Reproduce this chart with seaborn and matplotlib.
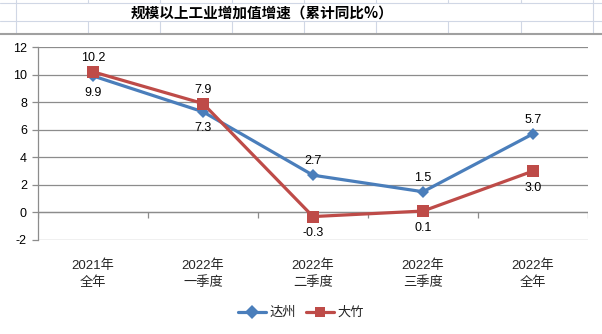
import matplotlib
matplotlib.use("Agg")
import matplotlib.pyplot as plt
from matplotlib.lines import Line2D
import seaborn as sns
import pandas as pd
import numpy as np

categories = ["2021年\n全年", "2022年\n一季度", "2022年\n二季度", "2022年\n三季度", "2022年\n全年"]
dazhou = [9.9, 7.3, 2.7, 1.5, 5.7]
dazhu = [10.2, 7.9, -0.3, 0.1, 3.0]
series_names = ["达州", "大竹"]
title = "规模以上工业增加值增速（累计同比%）"

sns.set_theme(style="white")
plt.rcParams['font.family'] = ['Liberation Sans', 'Noto Sans CJK SC', 'DejaVu Sans']

W, H = 602, 334
fig = plt.figure(figsize=(W / 100, H / 100), dpi=100)
fig.patch.set_facecolor("white")

def fx(px):
    return px / W

def fy(py):
    return 1 - py / H

ax = fig.add_axes([fx(38), fy(240), fx(588) - fx(38), fy(47) - fy(240)])

pos = list(range(len(categories)))
df = pd.DataFrame({
    "x": pos * 2,
    "value": dazhou + dazhu,
    "series": [series_names[0]] * len(pos) + [series_names[1]] * len(pos),
})

palette = {series_names[0]: "#4A7EBB", series_names[1]: "#BE4B48"}
markers = {series_names[0]: "D", series_names[1]: "s"}
sizes_m = {series_names[0]: 6.5, series_names[1]: 8.5}

sns.lineplot(data=df, x="x", y="value", hue="series", style="series",
             hue_order=series_names, style_order=series_names,
             palette=palette, markers=markers, dashes=False,
             linewidth=2.3, markersize=7.5, markeredgewidth=0, ax=ax)
for line, name in zip(ax.get_lines()[:2], series_names):
    line.set_markersize(sizes_m[name])

# data labels
label_pos = {series_names[0]: ["below", "below", "above", "above", "above"],
             series_names[1]: ["above", "above", "below", "below", "below"]}
for name, vals in zip(series_names, [dazhou, dazhu]):
    for i, v in enumerate(vals):
        off = 10 if label_pos[name][i] == "above" else -12
        ax.annotate(f"{v:.1f}", (i, v), xytext=(0, off), textcoords="offset points",
                    ha="center", va="center", fontsize=9, color="black")

ax.set_xlim(-0.5, len(categories) - 0.5)
ax.set_ylim(-2, 12)
ax.set_yticks(np.arange(-2, 13, 2))
ax.set_yticklabels([str(v) for v in np.arange(-2, 13, 2)], fontsize=9)
ax.yaxis.grid(True, color="#8C8C8C", linewidth=0.9)
ax.set_axisbelow(True)
ax.tick_params(axis="y", which="both", left=True, length=4, width=0.9, color="#8C8C8C", pad=4, labelcolor="black")

ax.set_xticks(pos)
ax.set_xticklabels(categories, fontsize=9.5)
ax.tick_params(axis="x", length=0, pad=14)
for lab in ax.get_xticklabels():
    lab.set_linespacing(1.45)

for s in ["top", "right", "bottom"]:
    ax.spines[s].set_visible(False)
ax.spines["left"].set_color("#8C8C8C")
ax.spines["left"].set_linewidth(0.9)

# category axis at zero with tick marks at boundaries
ax.axhline(0, color="#8C8C8C", linewidth=0.9, zorder=1)
bounds = np.arange(len(categories) + 1) - 0.5
ax.vlines(bounds, 0, -0.38, color="#8C8C8C", linewidth=0.9, zorder=1)

ax.set_xlabel("")
ax.set_ylabel("")

sns.move_legend(ax, "center", bbox_to_anchor=(fx(301), fy(313)),
                bbox_transform=fig.transFigure, ncol=2, frameon=False, title=None,
                fontsize=9.5, handlelength=2.1, handletextpad=0.25, columnspacing=0.8)

# spreadsheet cell grid in the header
grid_c = "#D0D7E5"
for yy in [3, 21]:
    fig.add_artist(Line2D([0, 1], [fy(yy), fy(yy)], transform=fig.transFigure, color=grid_c, linewidth=0.8))
for xx in [16, 88, 160, 232, 304, 376, 448, 521, 593]:
    segs = [(0, 3), (21, 33)] if 16 < xx < 593 else [(0, 33)]
    for a, b in segs:
        fig.add_artist(Line2D([fx(xx), fx(xx)], [fy(a), fy(b)], transform=fig.transFigure, color=grid_c, linewidth=0.8))
fig.add_artist(Line2D([0, 1], [fy(33.5), fy(33.5)], transform=fig.transFigure, color="#A0A0A0", linewidth=1.5))

fig.text(fx(262), fy(13), title, ha="center", va="center", fontsize=10.5, fontweight="bold",
         family=["Noto Sans CJK SC", "DejaVu Sans"], color="black")

fig.savefig("out.png", dpi=100)
